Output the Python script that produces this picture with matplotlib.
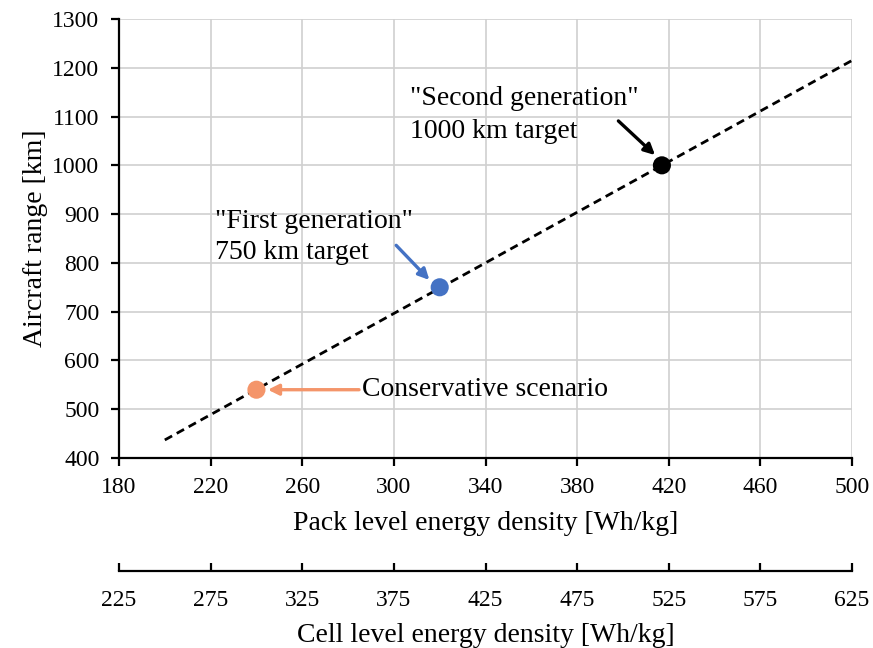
import matplotlib
matplotlib.use("Agg")
import matplotlib.pyplot as plt
import numpy as np

plt.rcParams['font.family'] = ['Liberation Serif', 'DejaVu Serif']

# range trend vs. pack-level energy density
line_x = [200, 500]
line_y = [437, 1215]

# scenario points
pt_x = [240, 320, 417]
pt_y = [540, 750, 1000]
pt_colors = ['#F4956A', '#4472C4', '#000000']
pt_labels = ['Conservative scenario',
             '"First generation"\n750 km target',
             '"Second generation"\n1000 km target']

pack_ticks = np.arange(180, 501, 40)
range_ticks = np.arange(400, 1301, 100)
cell_to_pack = 1.25

fig = plt.figure(figsize=(8.73, 6.48), dpi=100)
ax = fig.add_axes([0.1363, 0.2932, 0.8397, 0.6775])

ax.plot(line_x, line_y, color='black', lw=2.0, ls=(0, (3.0, 1.9)), zorder=3)
ax.scatter(pt_x, pt_y, s=170, c=pt_colors, zorder=4, edgecolors='none')

ax.set_xlim(180, 500)
ax.set_ylim(400, 1300)
ax.set_xticks(pack_ticks)
ax.set_yticks(range_ticks)
ax.grid(True, color='#d0d0d0', lw=1.2)
ax.set_axisbelow(True)
for s in ['top', 'right']:
    ax.spines[s].set_visible(False)
for s in ['left', 'bottom']:
    ax.spines[s].set_linewidth(1.6)
ax.tick_params(labelsize=17, width=1.6, length=6, direction='out', pad=8)
ax.set_xlabel('Pack level energy density [Wh/kg]', fontsize=20, labelpad=9)
ax.set_ylabel('Aircraft range [km]', fontsize=20, labelpad=3)

# annotations
arrow_kw = dict(arrowstyle='-|>', lw=2.4, mutation_scale=16,
                shrinkA=0, shrinkB=0)
ax.annotate(pt_labels[0], xy=(pt_x[0] + 5, pt_y[0]), xytext=(286, pt_y[0]),
            fontsize=20, va='center', ha='left',
            arrowprops=dict(color=pt_colors[0], **arrow_kw))
ax.annotate('', xy=(315.5, 765), xytext=(301, 836),
            arrowprops=dict(color=pt_colors[1], **arrow_kw))
ax.text(222, 910, pt_labels[1], fontsize=20, va='top', ha='left',
        linespacing=1.33)
ax.annotate('', xy=(414, 1021), xytext=(398, 1091),
            arrowprops=dict(color=pt_colors[2], **arrow_kw))
ax.text(307, 1162, pt_labels[2], fontsize=20, va='top', ha='left',
        linespacing=1.42)

# cell-level axis below
sec = ax.secondary_xaxis(-0.2575, functions=(lambda x: x * cell_to_pack,
                                              lambda x: x / cell_to_pack))
sec.set_xticks(pack_ticks * cell_to_pack)
sec.spines['bottom'].set_linewidth(1.6)
sec.tick_params(labelsize=17, width=1.6, length=6, direction='in', pad=14)
sec.set_xlabel('Cell level energy density [Wh/kg]', fontsize=20, labelpad=8)

fig.savefig('out.png', dpi=100)
